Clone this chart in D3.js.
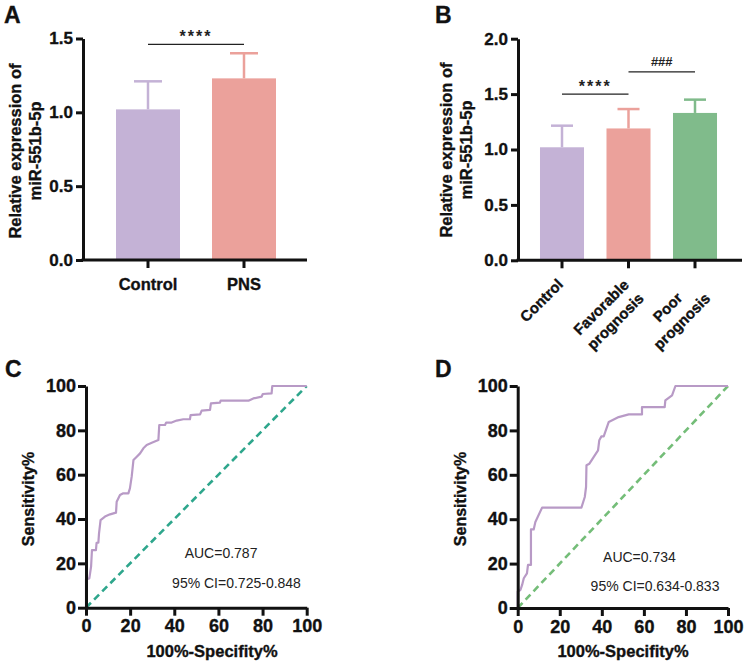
<!DOCTYPE html>
<html>
<head>
<meta charset="utf-8">
<script src="https://cdn.jsdelivr.net/npm/d3@7"></script>
<style>
  html, body { margin: 0; padding: 0; background: #fff; }
  svg { display: block; font-family: "Liberation Sans", Arial, sans-serif; }
  .heavy { stroke: #111; stroke-width: 0.35px; paint-order: stroke; }
</style>
</head>
<body>
<svg id="fig" width="744" height="667"></svg>
<script>
// --- panel A : bars
var aCats = ['Control', 'PNS'];
var aMean = [1.02, 1.23];
var aUpper = [1.21, 1.40];
var aTicks = [0, 0.5, 1.0, 1.5];
var aSig = [['Control', 'PNS', 1.46, '****']];

// --- panel B : bars
var bCats = ['Control', 'Favorable prognosis', 'Poor prognosis'];
var bLines = [['Control'], ['Favorable', 'prognosis'], ['Poor', 'prognosis']];
var bMean = [1.02, 1.19, 1.33];
var bUpper = [1.215, 1.365, 1.45];
var bTicks = [0, 0.5, 1.0, 1.5, 2.0];
var bSig = [['Control', 'Favorable prognosis', 1.50, '****'],
            ['Favorable prognosis', 'Poor prognosis', 1.70, '###']];

// --- panel C : ROC
var cX = [0, 0, 1.5, 2.3, 2.7, 4.5, 4.8, 5.6, 5.9, 6.6, 8.6, 10.9, 13.6, 13.9, 15.4, 16.9, 19.2, 19.9, 20.7, 21.5, 23.0, 24.5, 26.0, 27.5, 29.8, 32.8, 33.2, 35.8, 36.3, 38.8, 41.1, 44.1, 47.1, 47.4, 51.7, 52.4, 56.2, 56.6, 60.7, 61.0, 73.6, 75.8, 79.6, 80.1, 84.1, 84.4, 100];
var cY = [0, 12.8, 13.2, 18.5, 26.0, 26.0, 29.3, 29.3, 33.5, 39.5, 41.1, 42.1, 42.9, 47.8, 50.8, 51.6, 51.6, 53.8, 59.1, 66.6, 68.1, 69.6, 71.9, 73.4, 74.4, 75.6, 82.4, 82.4, 83.5, 83.5, 84.4, 85.0, 85.0, 86.9, 87.2, 88.9, 89.2, 92.2, 92.5, 93.4, 93.4, 94.4, 95.2, 96.4, 96.7, 100, 100];
var cText = ['AUC=0.787', '95% CI=0.725-0.848'];

// --- panel D : ROC
var dX = [0, 0, 1.3, 2.1, 2.9, 4.4, 4.9, 6.3, 6.3, 7.6, 8.4, 11.6, 30.3, 31.9, 32.5, 32.7, 34.1, 36.1, 38.2, 38.8, 39.8, 40.9, 43.3, 48.0, 52.8, 59.1, 59.1, 69.9, 70.2, 73.4, 75.0, 100];
var dY = [0, 7.4, 8.1, 10.4, 13.4, 15.6, 19.4, 19.4, 35.4, 35.4, 38.7, 45.2, 45.2, 50.0, 54.5, 64.3, 65.0, 68.0, 71.0, 75.6, 77.3, 77.3, 83.8, 86.0, 87.2, 87.2, 90.5, 90.5, 93.5, 95.8, 100, 100];
var dText = ['AUC=0.734', '95% CI=0.634-0.833'];

var rocTicks = [0, 20, 40, 60, 80, 100];
var diag = [0, 100];

var barColors = ['#c4b2d6', '#eba19b', '#80bb8b'];
var rocColor = '#b89ac6';

var svg = d3.select('#fig');

function styleAxis(g, size){
  g.selectAll('.domain').attr('stroke', '#111').attr('stroke-width', 3);
  g.selectAll('.tick line').attr('stroke', '#111').attr('stroke-width', 3);
  g.selectAll('.tick text')
    .attr('fill', '#111')
    .attr('class', 'heavy')
    .style('font-size', size + 'px')
    .style('font-weight', 'bold')
    .style('font-family', '"Liberation Sans", Arial, sans-serif');
}

function panelLetter(txt, x, y){
  svg.append('text').attr('x', x).attr('y', y).text(txt).attr('class', 'heavy')
    .style('font-size', '23px').style('font-weight', 'bold').attr('fill', '#111');
}

function yTitle(lines, x0, cy, gap, size){
  lines.forEach(function(t, i){
    svg.append('text')
      .attr('transform', 'translate(' + (x0 + i * gap) + ',' + cy + ') rotate(-90)')
      .attr('text-anchor', 'middle').attr('class', 'heavy')
      .style('font-size', size + 'px').style('font-weight', 'bold')
      .attr('fill', '#111').text(t);
  });
}

// bar panel
function barPanel(o){
  var y = d3.scaleLinear().domain(o.domain).range([o.bottom, o.top]);
  var x = d3.scaleBand().domain(o.cats).range(o.xr).paddingInner(o.pad).paddingOuter(o.pad / 2);

  var g = svg.append('g');

  g.selectAll('rect.bar').data(o.cats).enter().append('rect')
    .attr('x', function(d){ return x(d); })
    .attr('y', function(d, i){ return y(o.mean[i]); })
    .attr('width', x.bandwidth())
    .attr('height', function(d, i){ return y(0) - y(o.mean[i]); })
    .attr('fill', function(d, i){ return barColors[i]; });

  // error bars
  g.selectAll('line.err').data(o.cats).enter().append('line')
    .attr('x1', function(d){ return x(d) + x.bandwidth() / 2; })
    .attr('x2', function(d){ return x(d) + x.bandwidth() / 2; })
    .attr('y1', function(d, i){ return y(o.mean[i]); })
    .attr('y2', function(d, i){ return y(o.upper[i]); })
    .attr('stroke', function(d, i){ return barColors[i]; })
    .attr('stroke-width', 2.5);
  g.selectAll('line.cap').data(o.cats).enter().append('line')
    .attr('x1', function(d){ return x(d) + x.bandwidth() / 2 - o.cap / 2; })
    .attr('x2', function(d){ return x(d) + x.bandwidth() / 2 + o.cap / 2; })
    .attr('y1', function(d, i){ return y(o.upper[i]); })
    .attr('y2', function(d, i){ return y(o.upper[i]); })
    .attr('stroke', function(d, i){ return barColors[i]; })
    .attr('stroke-width', 2.5);

  // significance brackets
  o.sig.forEach(function(s){
    var x1 = x(s[0]) + x.bandwidth() / 2, x2 = x(s[1]) + x.bandwidth() / 2;
    g.append('line').attr('x1', x1).attr('x2', x2).attr('y1', y(s[2])).attr('y2', y(s[2]))
      .attr('stroke', '#222').attr('stroke-width', 1.3);
    g.append('text').attr('x', (x1 + x2) / 2).attr('y', y(s[2]) - (s[3] === '###' ? 6 : 2))
      .attr('text-anchor', 'middle')
      .style('font-size', s[3] === '###' ? '13px' : '16px')
      .style('font-weight', 'bold')
      .style('letter-spacing', s[3] === '###' ? '0px' : '2px')
      .attr('fill', '#222').text(s[3]);
  });

  var ya = g.append('g').attr('transform', 'translate(' + o.left + ',0)')
    .call(d3.axisLeft(y).tickValues(o.ticks).tickFormat(d3.format('.1f'))
      .tickSize(7).tickSizeOuter(0).tickPadding(3));
  styleAxis(ya, 17);

  var xa = g.append('g').attr('transform', 'translate(0,' + o.bottom + ')')
    .call(d3.axisBottom(x).tickSize(8).tickSizeOuter(0).tickPadding(5));
  xa.select('.domain').remove();
  styleAxis(xa, 16);
  g.append('line').attr('x1', o.left - 1.5).attr('x2', o.right)
    .attr('y1', o.bottom).attr('y2', o.bottom)
    .attr('stroke', '#111').attr('stroke-width', 3);
  return {g: g, x: x, xa: xa};
}

// ---- A
var A = barPanel({cats: aCats, mean: aMean, upper: aUpper, ticks: aTicks, sig: aSig,
  domain: [0, 1.5], bottom: 260, top: 38.5, left: 83, right: 307,
  xr: [100, 292], pad: 1 / 3, cap: 28});
A.xa.selectAll('.tick text').attr('dy', '1em').style('font-size', '16.5px');
panelLetter('A', 4, 23);
yTitle(['Relative expression of', 'miR-551b-5p'], 21, 151, 20, 16.5);

// ---- B
var B = barPanel({cats: bCats, mean: bMean, upper: bUpper, ticks: bTicks, sig: bSig,
  domain: [0, 2], bottom: 260.3, top: 38.7, left: 518, right: 742,
  xr: [528.75, 728.25], pad: 0.338, cap: 22});
B.xa.selectAll('.tick text').remove();
B.xa.selectAll('.tick').each(function(d, i){
  var lab = d3.select(this).append('g').attr('transform', 'translate(2,25) rotate(-45)');
  var texts = bLines[i].map(function(t, j){
    return lab.append('text').attr('y', j * 20).attr('text-anchor', 'middle')
      .attr('class', 'heavy')
      .style('font-size', '15px').style('font-weight', 'bold')
      .attr('fill', '#111').text(t);
  });
  var w = d3.max(texts, function(t){ return t.node().getComputedTextLength(); });
  texts.forEach(function(t){ t.attr('x', -w / 2); });
});
panelLetter('B', 435, 23);
yTitle(['Relative expression of', 'miR-551b-5p'], 452, 150, 20, 16.5);

// ROC panel
function rocPanel(o){
  var x = d3.scaleLinear().domain([0, 100]).range([o.left, o.right]);
  var y = d3.scaleLinear().domain([0, 100]).range([o.bottom, o.top]);
  var g = svg.append('g');

  g.append('path').datum(diag)
    .attr('d', d3.line().x(function(d){ return x(d); }).y(function(d){ return y(d); }))
    .attr('fill', 'none').attr('stroke', o.diagColor).attr('stroke-width', 2.6)
    .attr('stroke-dasharray', '7,4.5');

  g.append('path').datum(d3.range(o.xs.length))
    .attr('d', d3.line().x(function(i){ return x(o.xs[i]); }).y(function(i){ return y(o.ys[i]); }))
    .attr('fill', 'none').attr('stroke', rocColor).attr('stroke-width', 2.2)
    .attr('stroke-linejoin', 'round');

  var ya = g.append('g').attr('transform', 'translate(' + o.left + ',0)')
    .call(d3.axisLeft(y).tickValues(rocTicks).tickSize(8).tickSizeOuter(0).tickPadding(2));
  styleAxis(ya, 18);
  var xa = g.append('g').attr('transform', 'translate(0,' + o.bottom + ')')
    .call(d3.axisBottom(x).tickValues(rocTicks).tickSize(8).tickSizeOuter(0).tickPadding(4));
  styleAxis(xa, 18);

  g.append('text').attr('x', x(o.t1[0])).attr('y', y(o.t1[1])).attr('text-anchor', 'middle')
    .style('font-size', '14px').attr('fill', '#222').text(o.text[0]);
  g.append('text').attr('x', x(o.t2[0])).attr('y', y(o.t2[1])).attr('text-anchor', 'middle')
    .style('font-size', '14px').attr('fill', '#222').text(o.text[1]);

  g.append('text').attr('x', o.xtx).attr('y', 657).attr('text-anchor', 'middle')
    .attr('class', 'heavy')
    .style('font-size', '16.5px').style('font-weight', 'bold').attr('fill', '#111')
    .text('100%-Specifity%');
  yTitle(['Sensitivity%'], o.ytx, 499, 0, 16);
}

rocPanel({left: 86, right: 306.7, bottom: 607.7, top: 386, xs: cX, ys: cY,
  diagColor: '#2ea68c', text: cText, t1: [61.2, 22.4], t2: [68.2, 8.9], xtx: 212, ytx: 34});
panelLetter('C', 5, 377);

rocPanel({left: 517.7, right: 728, bottom: 608, top: 386, xs: dX, ys: dY,
  diagColor: '#74bd78', text: dText, t1: [57.9, 20.7], t2: [65.3, 7.7], xtx: 623, ytx: 466});
panelLetter('D', 435, 377);
</script>
</body>
</html>
